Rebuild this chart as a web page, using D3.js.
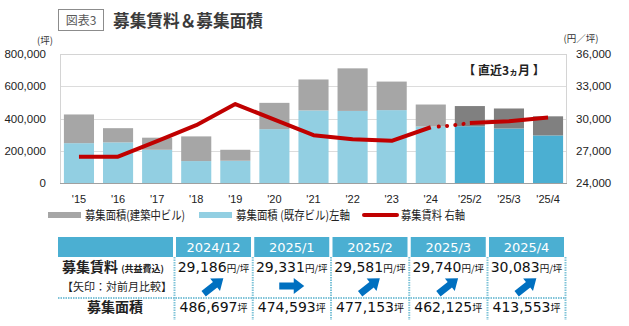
<!DOCTYPE html>
<html><head><meta charset="utf-8">
<script src="https://cdn.jsdelivr.net/npm/d3@7"></script>
<style>body{margin:0;background:#fff}svg{display:block}</style>
</head><body>
<svg id="c" width="629" height="326"></svg>
<script>
// ---- data ----
const categories = ["'15","'16","'17","'18","'19","'20","'21","'22","'23","'24","'25/2","'25/3","'25/4"];
const existingArea = [247000,252000,206000,136000,138000,334000,450000,447000,452000,350000,352000,338000,295000];
const totalArea = [425000,340000,281000,289000,206000,497000,642000,711000,629000,486697,477153,462125,413553];
const rent = [26450,26450,27890,29380,31340,29900,28450,28070,27920,29186,29581,29740,30083];
const rentJan2025 = 29331;
const leftTicks = [0,200000,400000,600000,800000];
const rightTicks = [24000,27000,30000,33000,36000];
const tableMonths = ["2024/12","2025/1","2025/2","2025/3","2025/4"];
const tableRent = [29186,29331,29581,29740,30083];
const tableArea = [486697,474593,477153,462125,413553];
const tableArrow = ["up","flat","up","up","up"];

const svg = d3.select("#c");
const JP = "'Noto Sans CJK JP','Noto Sans',sans-serif";
const NUM = "'Liberation Sans',Arial,sans-serif";
const TNUM = "'DejaVu Sans',Verdana,sans-serif";

// ---- title ----
svg.append("rect").attr("x",58.5).attr("y",9.5).attr("width",45).attr("height",21)
  .attr("fill","#fff").attr("stroke","#8c8c8c");
svg.append("text").attr("x",81).attr("y",25).attr("text-anchor","middle")
  .attr("font-family",JP).attr("font-size",12).attr("fill","#595959").text("図表3");
svg.append("text").attr("x",113).attr("y",27).attr("font-family",JP).attr("font-weight","bold")
  .attr("font-size",16.5).attr("fill","#3a3a3a").attr("textLength",150).attr("lengthAdjust","spacingAndGlyphs")
  .text("募集賃料＆募集面積");

// ---- scales ----
const x = d3.scaleBand().domain(categories).range([60,567]).paddingInner(0.23).paddingOuter(0.1);
const yL = d3.scaleLinear().domain([0,800000]).range([183,54]);
const yR = d3.scaleLinear().domain([24000,36000]).range([183,54]);
const recent = i => i >= 10;

// gridlines & frame
svg.append("g").selectAll("line").data(leftTicks.slice(1,4)).join("line")
  .attr("x1",60).attr("x2",567).attr("y1",d=>Math.round(yL(d))+0.5).attr("y2",d=>Math.round(yL(d))+0.5)
  .attr("stroke","#dcdcdc");
svg.append("rect").attr("x",60.5).attr("y",Math.round(yL(800000))+0.5).attr("width",506)
  .attr("height",yL(0)-Math.round(yL(800000))).attr("fill","none").attr("stroke","#d4d4d4");

// bars
const bars = svg.append("g");
bars.selectAll(".ex").data(existingArea).join("rect")
  .attr("x",(d,i)=>x(categories[i])).attr("width",x.bandwidth())
  .attr("y",d=>yL(d)).attr("height",d=>yL(0)-yL(d))
  .attr("fill",(d,i)=>recent(i)?"#4bafd2":"#92cfe2");
bars.selectAll(".co").data(totalArea).join("rect")
  .attr("x",(d,i)=>x(categories[i])).attr("width",x.bandwidth())
  .attr("y",d=>yL(d)).attr("height",(d,i)=>yL(existingArea[i])-yL(d))
  .attr("fill",(d,i)=>recent(i)?"#808080":"#a6a6a6");

// bottom axis line
svg.append("line").attr("x1",60).attr("x2",567).attr("y1",183.5).attr("y2",183.5).attr("stroke","#a0a0a0");

// axes labels
const axL = d3.axisLeft(yL).tickValues(leftTicks).tickFormat(d3.format(",")).tickSize(0).tickPadding(14);
const gL = svg.append("g").attr("transform","translate(60,0)").call(axL);
gL.select(".domain").remove();
gL.selectAll("text").attr("font-family",NUM).attr("font-size",11.5).attr("fill","#222");
const axR = d3.axisRight(yR).tickValues(rightTicks).tickFormat(d3.format(",")).tickSize(0).tickPadding(9);
const gR = svg.append("g").attr("transform","translate(567,0)").call(axR);
gR.select(".domain").remove();
gR.selectAll("text").attr("font-family",NUM).attr("font-size",11.5).attr("fill","#222");
const axB = d3.axisBottom(x).tickSize(0).tickPadding(12);
const gB = svg.append("g").attr("transform","translate(0,183)").call(axB);
gB.select(".domain").remove();
gB.selectAll("text").attr("font-family",NUM).attr("font-size",11).attr("fill","#222");

svg.append("text").attr("x",45).attr("y",44).attr("text-anchor","middle").attr("font-family",JP)
  .attr("font-size",9.5).attr("fill","#333").text("(坪)");
svg.append("text").attr("x",581).attr("y",42).attr("text-anchor","middle").attr("font-family",JP)
  .attr("font-size",9.5).attr("fill","#333").text("(円／坪)");

// rent line
const cx = i => x(categories[i]) + x.bandwidth()/2;
const line = d3.line().x(d=>d[0]).y(d=>d[1]);
const solid1 = rent.slice(0,10).map((v,i)=>[cx(i),yR(v)]);
const solid2 = rent.slice(10).map((v,i)=>[cx(i+10),yR(v)]);
[solid1,solid2].forEach(p=>svg.append("path").attr("d",line(p)).attr("fill","none")
  .attr("stroke","#c00000").attr("stroke-width",4).attr("stroke-linejoin","round"));
const midX = (cx(9)+cx(10))/2;
const dotted = [[cx(9),yR(rent[9])],[midX,yR(rentJan2025)],[cx(10),yR(rent[10])]];
svg.append("path").attr("d",line(dotted)).attr("fill","none").attr("stroke","#c00000")
  .attr("stroke-width",4).attr("stroke-linecap","round").attr("stroke-dasharray","0.1 8.2")
  .attr("stroke-dashoffset",-8);

svg.append("text").attr("x",504).attr("y",75).attr("text-anchor","middle").attr("font-family",JP)
  .attr("font-weight","bold").attr("font-size",12).attr("fill","#222")
  .html("【 直近3<tspan font-size='9'>ヵ</tspan>月 】");

// legend
const lg = svg.append("g").attr("font-family",JP).attr("font-size",12).attr("fill","#222");
lg.append("rect").attr("x",48).attr("y",212).attr("width",33).attr("height",6).attr("fill","#a6a6a6");
lg.append("text").attr("x",85).attr("y",220).attr("textLength",100).attr("lengthAdjust","spacingAndGlyphs")
  .text("募集面積(建築中ビル)");
lg.append("rect").attr("x",199).attr("y",212).attr("width",33).attr("height",6).attr("fill","#92cfe2");
lg.append("text").attr("x",236).attr("y",220).attr("textLength",114).attr("lengthAdjust","spacingAndGlyphs")
  .text("募集面積 (既存ビル)左軸");
lg.append("line").attr("x1",364).attr("x2",397).attr("y1",215).attr("y2",215)
  .attr("stroke","#c00000").attr("stroke-width",4).attr("stroke-linecap","round");
lg.append("text").attr("x",401).attr("y",220).attr("textLength",64).attr("lengthAdjust","spacingAndGlyphs")
  .text("募集賃料 右軸");

// ---- table ----
const colX = i => 176 + i*78.25;
const colW = 75;
const tb = svg.append("g");
tb.append("rect").attr("x",58).attr("y",237).attr("width",115).attr("height",20).attr("fill","#4bafd2");
tb.selectAll(".hd").data(tableMonths).join("rect").attr("x",(d,i)=>colX(i)).attr("y",237)
  .attr("width",colW).attr("height",20).attr("fill","#4bafd2");
tb.selectAll(".ht").data(tableMonths).join("text").attr("x",(d,i)=>colX(i)+colW/2).attr("y",252)
  .attr("text-anchor","middle").attr("font-family",TNUM).attr("font-size",13).attr("fill","#fff").text(d=>d);
// separators
tb.append("line").attr("x1",58).attr("x2",566).attr("y1",298).attr("y2",298)
  .attr("stroke","#7fc3d8").attr("stroke-width",2).attr("stroke-dasharray","1.5 1");
tb.selectAll(".vs").data(d3.range(5)).join("line")
  .attr("x1",i=>colX(i)-1.5).attr("x2",i=>colX(i)-1.5).attr("y1",257).attr("y2",320)
  .attr("stroke","#7fc3d8").attr("stroke-width",2).attr("stroke-dasharray","1.5 1");
tb.append("line").attr("x1",colX(4)+colW+1.5).attr("x2",colX(4)+colW+1.5).attr("y1",257).attr("y2",320)
  .attr("stroke","#7fc3d8").attr("stroke-width",2).attr("stroke-dasharray","1.5 1");
// row labels
tb.append("text").attr("x",62).attr("y",272).attr("font-family",JP).attr("font-weight","bold")
  .attr("font-size",14).attr("fill","#222").html("募集賃料 <tspan font-size='9'>(共益費込)</tspan>");
tb.append("text").attr("x",62).attr("y",291).attr("font-family",JP)
  .attr("font-size",11).attr("fill","#222").text("【矢印：対前月比較】");
tb.append("text").attr("x",115).attr("y",312).attr("text-anchor","middle").attr("font-family",JP)
  .attr("font-weight","bold").attr("font-size",14).attr("fill","#222").text("募集面積");
// values
tb.selectAll(".rv").data(tableRent).join("text").attr("x",(d,i)=>colX(i)+colW/2).attr("y",272)
  .attr("text-anchor","middle").attr("font-family",TNUM).attr("font-size",14).attr("fill","#111")
  .html(d=>d3.format(",")(d)+"<tspan font-family=\"'Noto Sans CJK JP'\" font-size='9.5'>円/坪</tspan>");
tb.selectAll(".av").data(tableArea).join("text").attr("x",(d,i)=>colX(i)+colW/2).attr("y",312)
  .attr("text-anchor","middle").attr("font-family",TNUM).attr("font-size",14).attr("fill","#111")
  .html(d=>d3.format(",")(d)+"<tspan font-family=\"'Noto Sans CJK JP'\" font-size='10'>坪</tspan>");
// arrows
const arrowPath = "M-12.5,-3.5 L2,-3.5 L2,-8 L12.5,0 L2,8 L2,3.5 L-12.5,3.5 Z";
tb.selectAll(".ar").data(tableArrow).join("path").attr("d",arrowPath).attr("fill","#0070c0")
  .attr("transform",(d,i)=>`translate(${colX(i)+colW/2},286) rotate(${d==="up"?-38:0})`);
</script>
</body></html>
